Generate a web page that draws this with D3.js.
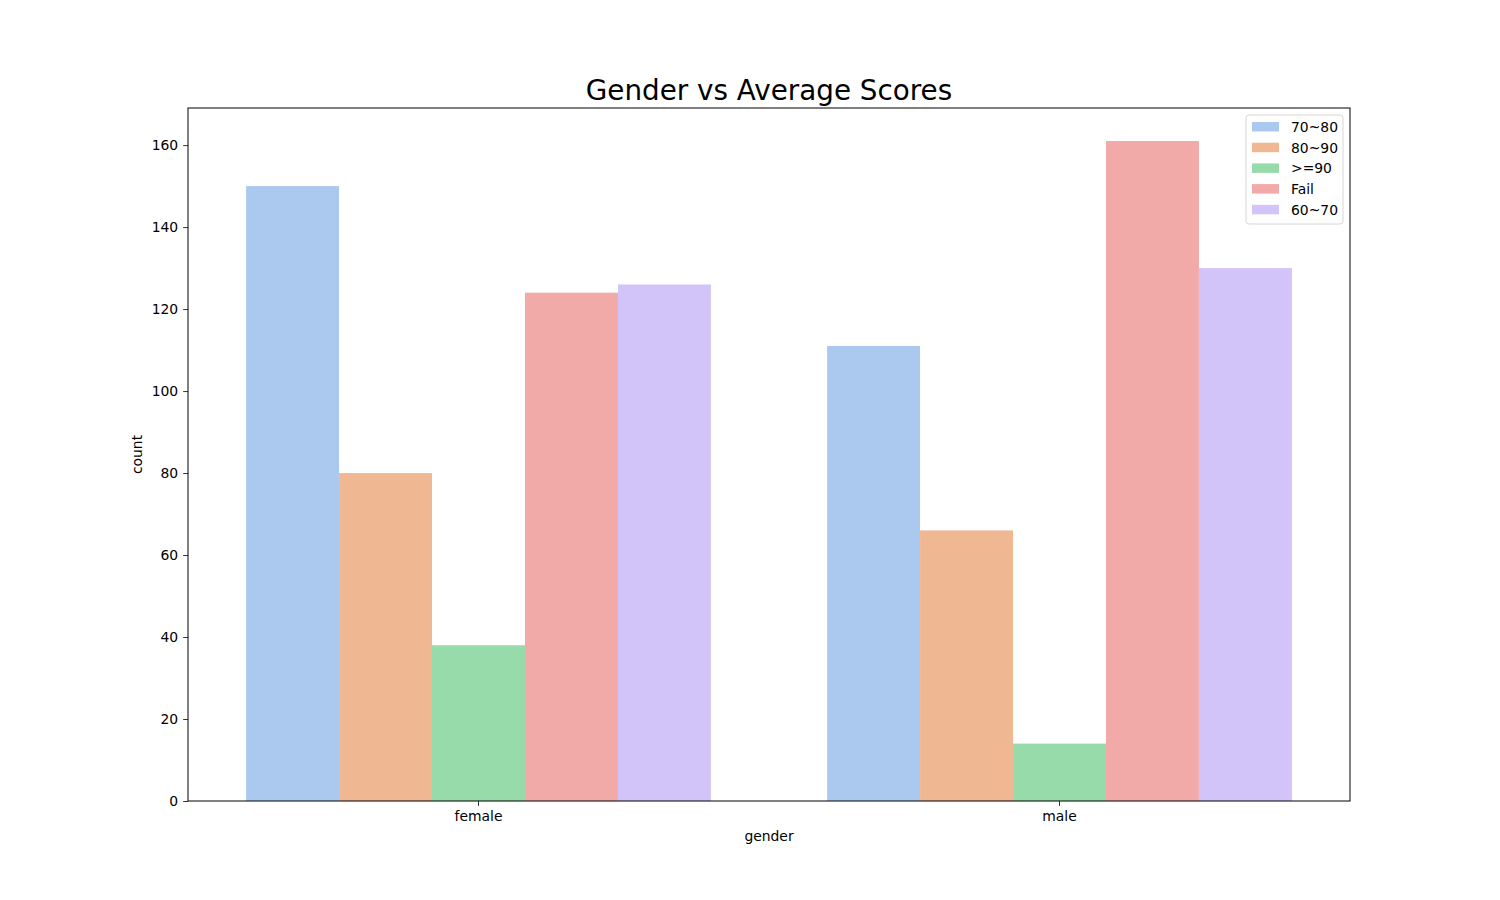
<!DOCTYPE html>
<html>
<head>
<meta charset="utf-8">
<script src="https://cdn.jsdelivr.net/npm/d3@7"></script>
<style>
  body { margin: 0; background: #fff; }
  text { font-family: "DejaVu Sans", sans-serif; }
</style>
</head>
<body>
<svg id="chart" width="1500" height="900"></svg>
<script>
const genders = ["female", "male"];
const score_groups = ["70~80", "80~90", ">=90", "Fail", "60~70"];
const group_colors = ["#abc9ee", "#f0b892", "#98dbaa", "#f2aaa8", "#d2c4f8"];
// counts per gender, in score_groups order
const female_counts = [150, 80, 38, 124, 126];
const male_counts = [111, 66, 14, 161, 130];
const y_ticks = [0, 20, 40, 60, 80, 100, 120, 140, 160];

const counts = { female: female_counts, male: male_counts };

const svg = d3.select("#chart");
const plot_left = 188, plot_right = 1350, plot_top = 108, plot_bottom = 801;
const tick_font = "13.9px";

const x = d3.scaleBand()
    .domain(genders)
    .range([plot_left, plot_right]);

const x_inner = d3.scaleBand()
    .domain(score_groups)
    .range([0, x.bandwidth() * 0.8]);

const max_count = d3.max([...female_counts, ...male_counts]);
const y = d3.scaleLinear()
    .domain([0, max_count * 1.05])
    .range([plot_bottom, plot_top]);

const color = d3.scaleOrdinal().domain(score_groups).range(group_colors);

// bars
const bar_rows = [];
genders.forEach(g => {
    score_groups.forEach((s, i) => bar_rows.push({ gender: g, group: s, value: counts[g][i] }));
});

svg.append("g")
    .selectAll("rect")
    .data(bar_rows)
    .enter()
    .append("rect")
    .attr("x", d => x(d.gender) + x.bandwidth() * 0.1 + x_inner(d.group))
    .attr("y", d => y(d.value))
    .attr("width", x_inner.bandwidth())
    .attr("height", d => y(0) - y(d.value))
    .attr("fill", d => color(d.group));

// axes
const x_axis = svg.append("g")
    .attr("transform", `translate(0,${plot_bottom})`)
    .call(d3.axisBottom(x).tickSize(4.9).tickPadding(5.5).tickSizeOuter(0));

const y_axis = svg.append("g")
    .attr("transform", `translate(${plot_left},0)`)
    .call(d3.axisLeft(y).tickValues(y_ticks).tickSize(4.9).tickPadding(4.9).tickSizeOuter(0));

[x_axis, y_axis].forEach(a => {
    a.select(".domain").remove();
    a.selectAll("text").attr("font-size", tick_font).attr("font-family", "DejaVu Sans").attr("fill", "#000");
    a.selectAll("line").attr("stroke", "#000").attr("stroke-width", 0.8);
});

// frame
svg.append("rect")
    .attr("x", plot_left).attr("y", plot_top)
    .attr("width", plot_right - plot_left).attr("height", plot_bottom - plot_top)
    .attr("fill", "none").attr("stroke", "#000").attr("stroke-width", 1);

// labels
svg.append("text")
    .attr("x", (plot_left + plot_right) / 2).attr("y", 100)
    .attr("text-anchor", "middle")
    .attr("font-size", "27.8px")
    .text("Gender vs Average Scores");

svg.append("text")
    .attr("x", (plot_left + plot_right) / 2).attr("y", 841)
    .attr("text-anchor", "middle")
    .attr("font-size", tick_font)
    .text("gender");

svg.append("text")
    .attr("transform", `translate(142,${(plot_top + plot_bottom) / 2}) rotate(-90)`)
    .attr("text-anchor", "middle")
    .attr("font-size", tick_font)
    .text("count");

// legend
const legend = svg.append("g").attr("transform", "translate(1246,115)");
legend.append("rect")
    .attr("width", 97).attr("height", 109).attr("rx", 3)
    .attr("fill", "#fff").attr("fill-opacity", 0.8)
    .attr("stroke", "#d6d6d6").attr("stroke-width", 1);

const items = legend.selectAll("g.item")
    .data(score_groups)
    .enter()
    .append("g")
    .attr("class", "item")
    .attr("transform", (d, i) => `translate(6,${7 + i * 20.7})`);

items.append("rect")
    .attr("width", 27).attr("height", 9.5)
    .attr("fill", d => color(d));

items.append("text")
    .attr("x", 39).attr("y", 10)
    .attr("font-size", tick_font)
    .text(d => d);
</script>
</body>
</html>
